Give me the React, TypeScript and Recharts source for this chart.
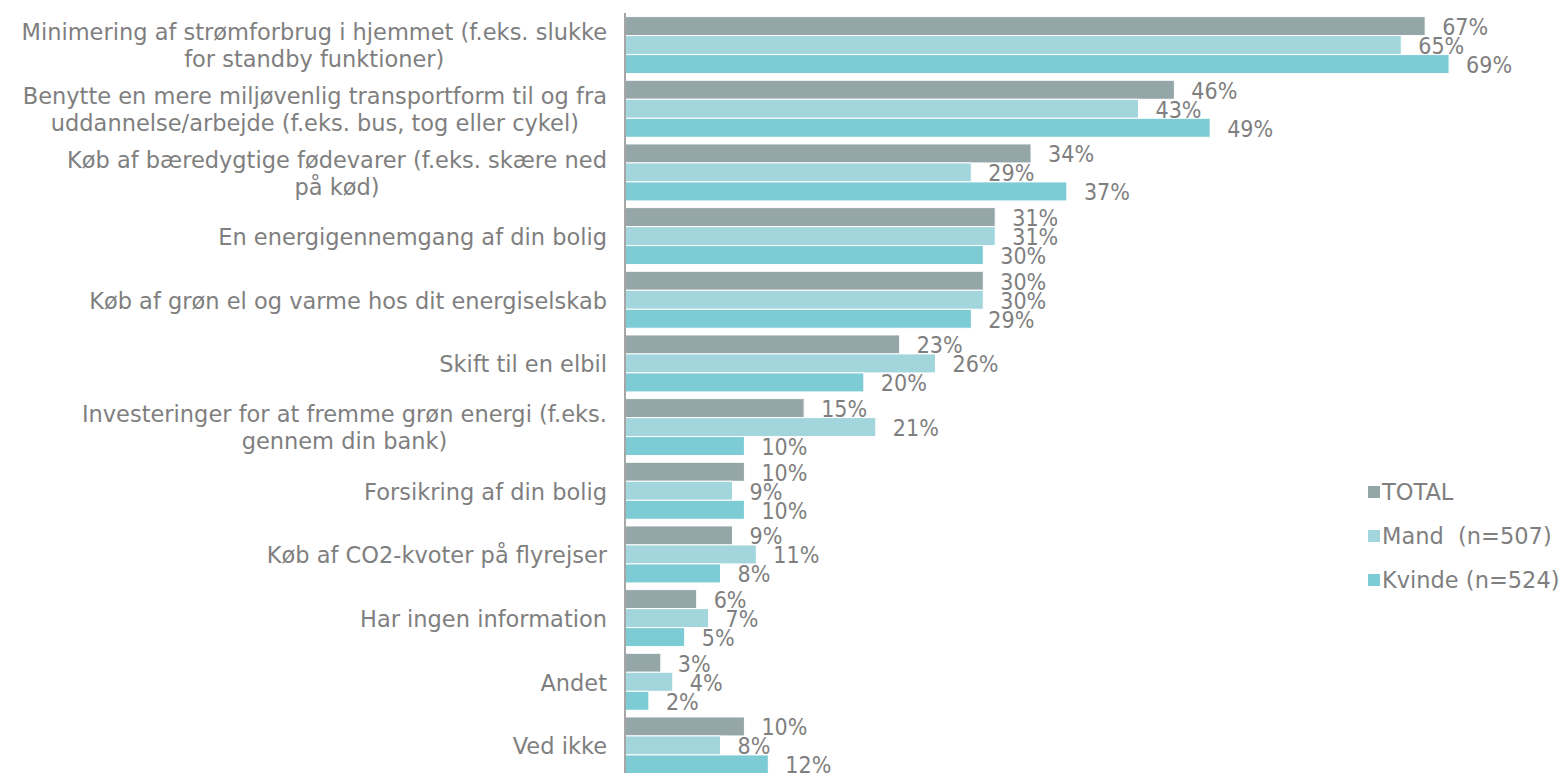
import React from "react";
import { BarChart, Bar, XAxis, YAxis, LabelList } from "recharts";

const categories = [
  "Minimering af strømforbrug i hjemmet (f.eks. slukke\nfor standby funktioner)",
  "Benytte en mere miljøvenlig transportform til og fra\nuddannelse/arbejde (f.eks. bus, tog eller cykel)",
  "Køb af bæredygtige fødevarer (f.eks. skære ned\npå kød)",
  "En energigennemgang af din bolig",
  "Køb af grøn el og varme hos dit energiselskab",
  "Skift til en elbil",
  "Investeringer for at fremme grøn energi (f.eks.\ngennem din bank)",
  "Forsikring af din bolig",
  "Køb af CO2-kvoter på flyrejser",
  "Har ingen information",
  "Andet",
  "Ved ikke",
];

const total = [67, 46, 34, 31, 30, 23, 15, 10, 9, 6, 3, 10];
const mand = [65, 43, 29, 31, 30, 26, 21, 9, 11, 7, 4, 8];
const kvinde = [69, 49, 37, 30, 29, 20, 10, 10, 8, 5, 2, 12];

const series = [
  { key: "total", name: "TOTAL", color: "#95a6a9" },
  { key: "mand", name: "Mand  (n=507)", color: "#a3d6dc" },
  { key: "kvinde", name: "Kvinde (n=524)", color: "#7dcbd5" },
];

const data = categories.map((c, i) => ({
  category: c,
  total: total[i],
  mand: mand[i],
  kvinde: kvinde[i],
}));

const FONT = "'DejaVu Sans', sans-serif";
const LABEL_FONT = "'DejaVu Sans Condensed', 'DejaVu Sans', sans-serif";
const CAT_SIZE = 22.5;
const LABEL_SIZE = 23;
const TEXT = "#7f7f7f";

let canvas: HTMLCanvasElement | null = null;
function measure(text: string) {
  if (!canvas) canvas = document.createElement("canvas");
  const ctx = canvas.getContext("2d")!;
  ctx.font = `${CAT_SIZE}px 'DejaVu Sans'`;
  return ctx.measureText(text).width;
}

function CategoryTick(props: any) {
  const { x, y, payload } = props;
  const lines: string[] = String(payload.value).split("\n");
  const lineH = 27;
  const widest = Math.max(...lines.map(measure));
  const right = x - 10;
  const startY = y - ((lines.length - 1) * lineH) / 2 + 1;
  return (
    <g>
      {lines.map((l, i) => (
        <text
          key={i}
          x={lines.length > 1 ? right - widest / 2 : right}
          y={startY + i * lineH}
          textAnchor={lines.length > 1 ? "middle" : "end"}
          dominantBaseline="central"
          fill={TEXT}
          fontFamily={FONT}
          fontSize={CAT_SIZE}
        >
          {l}
        </text>
      ))}
    </g>
  );
}

function ValueLabel(props: any) {
  const { x, y, width, height, value } = props;
  return (
    <text
      x={x + width + 17}
      y={y + height / 2 + 1}
      dominantBaseline="central"
      fill={TEXT}
      fontFamily={LABEL_FONT}
      fontSize={LABEL_SIZE}
    >
      {value}%
    </text>
  );
}

function LegendBox() {
  return (
    <div
      style={{
        position: "absolute",
        left: 1368,
        top: 470,
        fontFamily: FONT,
        fontSize: CAT_SIZE,
        color: TEXT,
      }}
    >
      {series.map((s) => (
        <div
          key={s.key}
          style={{ display: "flex", alignItems: "center", height: 44, whiteSpace: "pre" }}
        >
          <span
            style={{
              display: "inline-block",
              width: 12,
              height: 12,
              background: s.color,
              marginRight: 2,
            }}
          />
          {s.name}
        </div>
      ))}
    </div>
  );
}

export default function App() {
  return (
    <div
      style={{
        position: "absolute",
        left: 0,
        top: 0,
        width: 1566,
        height: 773,
        overflow: "hidden",
        background: "#fff",
      }}
    >
      <BarChart
        width={1566}
        height={780}
        data={data}
        layout="vertical"
        margin={{ top: 13, right: 105, bottom: 3, left: 0 }}
        barCategoryGap={3.6}
        barGap={0}
      >
        <XAxis type="number" hide domain={[0, 70]} />
        <YAxis
          type="category"
          dataKey="category"
          width={625}
          tickLine={false}
          axisLine={{ stroke: "#a6a6a6", strokeWidth: 2 }}
          tick={<CategoryTick />}
          interval={0}
        />
        {series.map((s) => (
          <Bar
            key={s.key}
            dataKey={s.key}
            name={s.name}
            fill={s.color}
            stroke="#ffffff"
            strokeWidth={1}
            isAnimationActive={false}
          >
            <LabelList dataKey={s.key} content={<ValueLabel />} />
          </Bar>
        ))}
      </BarChart>
      <LegendBox />
    </div>
  );
}
